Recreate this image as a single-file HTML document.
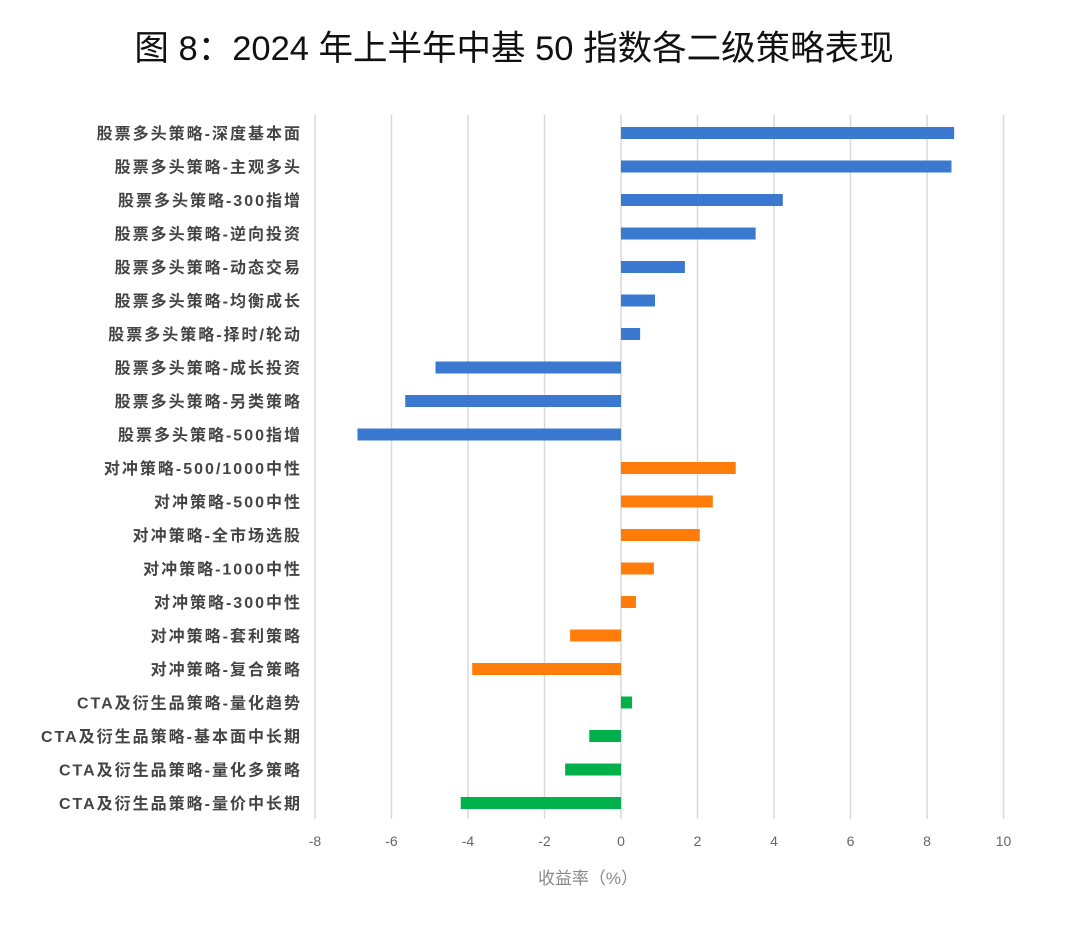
<!DOCTYPE html>
<html><head><meta charset="utf-8"><style>
body{margin:0;background:#fff;width:1080px;height:921px;overflow:hidden}
svg text{font-family:"Liberation Sans","Noto Sans CJK SC",sans-serif}
</style></head><body>
<svg id="c" width="1080" height="921">
<text x="514" y="60" font-size="34.5" text-anchor="middle" fill="#111">图 8：2024 年上半年中基 50 指数各二级策略表现</text>
<g id="grid"></g><g id="bars"></g><g id="labels"></g><g id="ticks"></g>
<text x="588" y="884" font-size="17" text-anchor="middle" fill="#888">收益率（%）</text>
</svg>
<script>
const categories=["股票多头策略-深度基本面","股票多头策略-主观多头","股票多头策略-300指增","股票多头策略-逆向投资","股票多头策略-动态交易","股票多头策略-均衡成长","股票多头策略-择时/轮动","股票多头策略-成长投资","股票多头策略-另类策略","股票多头策略-500指增","对冲策略-500/1000中性","对冲策略-500中性","对冲策略-全市场选股","对冲策略-1000中性","对冲策略-300中性","对冲策略-套利策略","对冲策略-复合策略","CTA及衍生品策略-量化趋势","CTA及衍生品策略-基本面中长期","CTA及衍生品策略-量化多策略","CTA及衍生品策略-量价中长期"];
const values=[8.71,8.64,4.23,3.52,1.67,0.89,0.50,-4.85,-5.64,-6.89,3.0,2.40,2.06,0.86,0.39,-1.33,-3.89,0.29,-0.83,-1.46,-4.19];
const groups=["stock","stock","stock","stock","stock","stock","stock","stock","stock","stock","hedge","hedge","hedge","hedge","hedge","hedge","hedge","cta","cta","cta","cta"];
const tickValues=[-8,-6,-4,-2,0,2,4,6,8,10];
const colors={stock:"#3b78d0",hedge:"#ff7c0a",cta:"#00b04a"};
const NS="http://www.w3.org/2000/svg";
const x=v=>621+v*38.25;
const y=i=>133+i*33.5;
function mk(t,a,p){const e=document.createElementNS(NS,t);for(const k in a)e.setAttribute(k,a[k]);document.getElementById(p).appendChild(e);return e;}
tickValues.forEach(t=>{
 const l=mk("line",{x1:x(t),x2:x(t),y1:115,y2:819,stroke:"#d9d9d9","stroke-width":1.5},"grid");
 
 
 const tx=mk("text",{x:x(t),y:846,"font-size":14,"text-anchor":"middle",fill:"#666"},"ticks");
 tx.textContent=t;
 
 
});
categories.forEach((c,i)=>{
 const v=values[i];
 const r=mk("rect",{x:Math.min(x(0),x(v)),y:y(i)-6,width:Math.abs(x(v)-x(0)),height:12,fill:colors[groups[i]]},"bars");
 
 
 const t=mk("text",{x:302,y:y(i)+6,"font-size":16,"letter-spacing":"2","text-anchor":"end",fill:"#444","font-weight":"bold"},"labels");
 t.textContent=c;
 
 
});
</script>
</body></html>
